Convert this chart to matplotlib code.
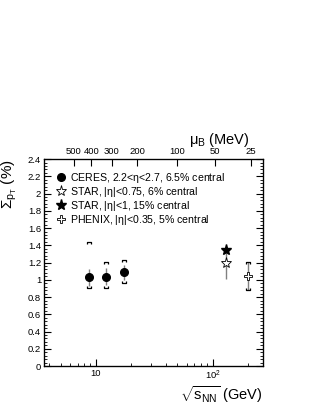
import numpy as np
import matplotlib

matplotlib.use("Agg")
import matplotlib.pyplot as plt
from matplotlib.path import Path
from matplotlib.ticker import FixedLocator, FixedFormatter, MultipleLocator, NullLocator

plt.rcParams["font.family"] = ["Liberation Sans", "DejaVu Sans"]
plt.rcParams["mathtext.fontset"] = "custom"
plt.rcParams["mathtext.rm"] = "Liberation Sans"
plt.rcParams["mathtext.it"] = "Liberation Sans"

# CERES, SPS energies
ceres_sqrts = [8.8, 12.3, 17.3]
ceres_sigma = [1.03, 1.035, 1.085]
ceres_stat = [0.10, 0.10, 0.09]
ceres_sys_hi = [1.44, 1.21, 1.23]
ceres_sys_lo = [0.90, 0.90, 0.96]

# STAR at 130 GeV
star_sqrts = [130.0]
star075_sigma = [1.19]
star075_err = [0.18]
star1_sigma = [1.35]

# PHENIX at 200 GeV
phenix_sqrts = [200.0]
phenix_sigma = [1.04]
phenix_hi = [1.21]
phenix_lo = [0.88]

# baryon chemical potential labels for the top axis
mub_labels = [500, 400, 300, 200, 100, 50, 25]


def mub_to_sqrts(mub):
    # mu_B = 1240 / (1 + 0.2284 sqrt(s))
    return (1240.0 / np.asarray(mub, dtype=float) - 1.0) / 0.2284


top_bracket = Path([(-1, -1), (-1, 0), (1, 0), (1, -1)],
                   [Path.MOVETO, Path.LINETO, Path.LINETO, Path.LINETO])
bot_bracket = Path([(-1, 1), (-1, 0), (1, 0), (1, 1)],
                   [Path.MOVETO, Path.LINETO, Path.LINETO, Path.LINETO])

fig = plt.figure(figsize=(3.16, 4.09), dpi=100)
ax = fig.add_axes([0.139, 0.105, 0.693, 0.506])
ax.set_xscale("log")
ax.set_xlim(3.6, 270)
ax.set_ylim(0, 2.4)

grey = "#808080"

# CERES
ax.errorbar(ceres_sqrts, ceres_sigma, yerr=ceres_stat, fmt="none", ecolor=grey, elinewidth=1.0)
ax.plot(ceres_sqrts, ceres_sys_hi, ls="none", marker=top_bracket, ms=3.5, mec="black", mfc="none", mew=0.9)
ax.plot(ceres_sqrts, ceres_sys_lo, ls="none", marker=bot_bracket, ms=3.5, mec="black", mfc="none", mew=0.9)
ax.plot(ceres_sqrts, ceres_sigma, ls="none", marker="o", ms=5.5, color="black",
        label=r"CERES, 2.2<$\eta$<2.7, 6.5% central")

# STAR
ax.errorbar(star_sqrts, star075_sigma, yerr=star075_err, fmt="none", ecolor=grey, elinewidth=1.0)
ax.plot(star_sqrts, star075_sigma, ls="none", marker="*", ms=8, mec="black", mfc="white", mew=0.6,
        label=r"STAR, |$\eta$|<0.75, 6% central")
ax.plot(star_sqrts, star1_sigma, ls="none", marker="*", ms=8, color="black",
        label=r"STAR, |$\eta$|<1, 15% central")

# PHENIX
ax.vlines(phenix_sqrts, phenix_lo, phenix_hi, color=grey, lw=1.0)
ax.plot(phenix_sqrts, phenix_hi, ls="none", marker=top_bracket, ms=3.5, mec="black", mfc="none", mew=0.9)
ax.plot(phenix_sqrts, phenix_lo, ls="none", marker=bot_bracket, ms=3.5, mec="black", mfc="none", mew=0.9)
ax.plot(phenix_sqrts, phenix_sigma, ls="none", marker="P", ms=6, mec="black", mfc="white", mew=0.6,
        label=r"PHENIX, |$\eta$|<0.35, 5% central")

# axes styling
ax.yaxis.set_major_locator(MultipleLocator(0.2))
ax.yaxis.set_minor_locator(MultipleLocator(0.04))
ax.set_yticklabels([("%g" % v) for v in ax.get_yticks()])
ax.xaxis.set_major_locator(FixedLocator([10, 100]))
ax.xaxis.set_major_formatter(FixedFormatter(["10", r"$10^{2}$"]))
ax.tick_params(which="both", direction="in", top=False, right=True, labelsize=6.8, pad=2)
ax.tick_params(which="major", length=5)
ax.tick_params(which="minor", length=2.5)
for sp in ax.spines.values():
    sp.set_linewidth(0.9)

top = ax.twiny()
top.set_xscale("log")
top.set_xlim(ax.get_xlim())
top.xaxis.set_major_locator(FixedLocator(mub_to_sqrts(mub_labels)))
top.xaxis.set_major_formatter(FixedFormatter([str(m) for m in mub_labels]))
top.xaxis.set_minor_locator(NullLocator())
top.tick_params(direction="in", length=5, labelsize=6.8, pad=2)

ax.set_ylabel(r"$\Sigma_{p_{T}}$ (%)", fontsize=11, loc="top", labelpad=6)
ax.set_xlabel(r"$\sqrt{s_{NN}}$ (GeV)", fontsize=10.5, loc="right", labelpad=2)
top.set_xlabel(r"$\mu_{B}$ (MeV)", fontsize=10.5, loc="right")
top.xaxis.set_label_coords(0.94, 1.075)

ax.legend(loc="upper left", bbox_to_anchor=(0.0, 1.0), frameon=False, fontsize=7.6,
          handlelength=1.0, handleheight=0.5, handletextpad=0.35, labelspacing=0.0,
          borderaxespad=0.6, borderpad=0.5)

fig.savefig("out.png", dpi=100)
